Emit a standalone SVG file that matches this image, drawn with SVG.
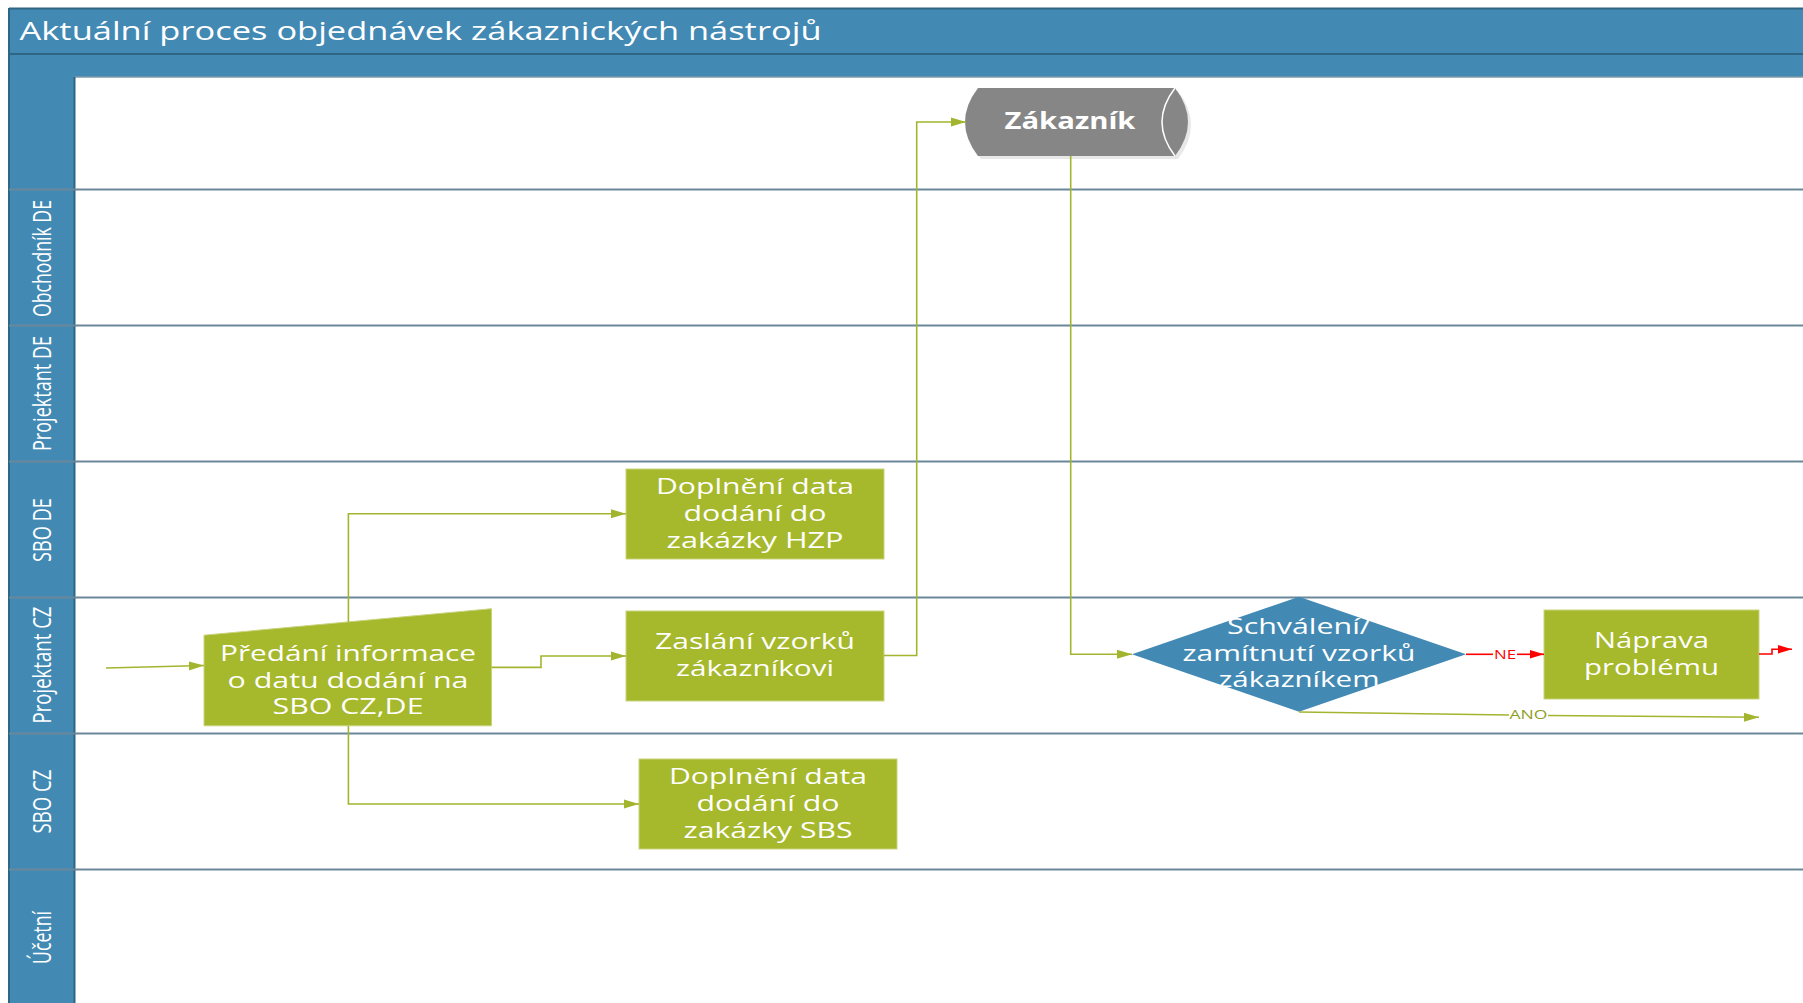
<svg xmlns="http://www.w3.org/2000/svg" width="1803" height="1003" viewBox="0 0 1803 1003">
<style>
  .hdr { fill: #4289B4; }
  .lane { stroke: #6A8799; stroke-width: 2; fill: none; }
  .colEdge { stroke: #2F6584; stroke-width: 2; fill: none; }
  .box { fill: #A6B82B; stroke: #C9D37E; stroke-width: 1; }
  .txt { font-family: "Open Sans", "Noto Sans", "DejaVu Sans", sans-serif; fill: #FFFFFF; }
  .boxTxt { font-size: 22.5px; text-anchor: middle; }
  .laneTxt { font-size: 19px; text-anchor: middle; }
  .conn { stroke: #A3B52F; stroke-width: 1.6; fill: none; }
  .connR { stroke: #FF0000; stroke-width: 1.6; fill: none; }
</style>
<defs>
  <marker id="arrG" markerUnits="userSpaceOnUse" markerWidth="15" markerHeight="10" refX="15" refY="5" orient="auto">
    <path d="M0,0.5 L15,5 L0,9.5 Z" fill="#A3B52F"/>
  </marker>
  <marker id="arrR" markerUnits="userSpaceOnUse" markerWidth="14" markerHeight="10" refX="14" refY="5" orient="auto">
    <path d="M0,0.8 L14,5 L0,9.2 Z" fill="#FF0000"/>
  </marker>
</defs>

<rect x="0" y="0" width="1803" height="1003" fill="#FFFFFF"/>

<g id="pool">
  <rect class="hdr" x="9" y="9" width="1800" height="68"/>
  <line x1="9" y1="8.5" x2="1803" y2="8.5" stroke="#2F6584" stroke-width="2"/>
  <line x1="9" y1="54" x2="1803" y2="54" stroke="#2F6584" stroke-width="2"/>
  <line x1="74.5" y1="77" x2="1803" y2="77" stroke="#7F9AAA" stroke-width="1.5"/>
  <rect class="hdr" x="9" y="77" width="65.5" height="930"/>
  <line class="colEdge" x1="9" y1="8" x2="9" y2="1003"/>
  <line class="colEdge" x1="74.5" y1="77" x2="74.5" y2="1003"/>
  <line class="lane" x1="9" y1="189.5" x2="1803" y2="189.5"/>
  <line class="lane" x1="9" y1="325.5" x2="1803" y2="325.5"/>
  <line class="lane" x1="9" y1="461.5" x2="1803" y2="461.5"/>
  <line class="lane" x1="9" y1="597.5" x2="1803" y2="597.5"/>
  <line class="lane" x1="9" y1="733.5" x2="1803" y2="733.5"/>
  <line class="lane" x1="9" y1="869.5" x2="1803" y2="869.5"/>
  <text class="txt" x="19.5" y="39.5" font-size="26" textLength="802" lengthAdjust="spacingAndGlyphs">Aktuální proces objednávek zákaznických nástrojů</text>
  <text class="txt laneTxt" transform="translate(50.5,258.5) scale(1.3,1) rotate(-90)" textLength="117" lengthAdjust="spacingAndGlyphs">Obchodník DE</text>
  <text class="txt laneTxt" transform="translate(50.5,393.5) scale(1.3,1) rotate(-90)" textLength="115" lengthAdjust="spacingAndGlyphs">Projektant DE</text>
  <text class="txt laneTxt" transform="translate(50.5,530) scale(1.3,1) rotate(-90)" textLength="64" lengthAdjust="spacingAndGlyphs">SBO DE</text>
  <text class="txt laneTxt" transform="translate(50.5,665) scale(1.3,1) rotate(-90)" textLength="117" lengthAdjust="spacingAndGlyphs">Projektant CZ</text>
  <text class="txt laneTxt" transform="translate(50.5,801.5) scale(1.3,1) rotate(-90)" textLength="64" lengthAdjust="spacingAndGlyphs">SBO CZ</text>
  <text class="txt laneTxt" transform="translate(50.5,937.5) scale(1.3,1) rotate(-90)" textLength="53" lengthAdjust="spacingAndGlyphs">Účetní</text>
</g>

<g id="zakaznik">
  <path d="M981,91 L1178,91 Q1204,125 1178,159 L981,159 Q955,125 981,91 Z" fill="#E8E8E8"/>
  <path d="M978,88 L1175,88 Q1201,122 1175,156 L978,156 Q952,122 978,88 Z" fill="#868686"/>
  <path d="M1175,88 Q1149,122 1175,156" fill="none" stroke="#FFFFFF" stroke-width="1.5"/>
  <text class="txt" x="1070" y="128.5" font-size="22.5" font-weight="bold" text-anchor="middle" textLength="131" lengthAdjust="spacingAndGlyphs">Zákazník</text>
</g>

<g id="predani">
  <polygon class="box" points="204,635.2 491.5,608.7 491.5,725.8 204,725.8"/>
  <text class="txt boxTxt" x="348" y="660.7" textLength="256" lengthAdjust="spacingAndGlyphs">Předání informace</text>
  <text class="txt boxTxt" x="348" y="687.6" textLength="241" lengthAdjust="spacingAndGlyphs">o datu dodání na</text>
  <text class="txt boxTxt" x="348" y="714.4" textLength="151" lengthAdjust="spacingAndGlyphs">SBO CZ,DE</text>
</g>

<g id="doplneni-hzp">
  <rect class="box" x="626" y="469" width="258" height="90"/>
  <text class="txt boxTxt" x="755" y="493.6" textLength="198" lengthAdjust="spacingAndGlyphs">Doplnění data</text>
  <text class="txt boxTxt" x="755" y="520.5" textLength="143" lengthAdjust="spacingAndGlyphs">dodání do</text>
  <text class="txt boxTxt" x="755" y="548" textLength="177" lengthAdjust="spacingAndGlyphs">zakázky HZP</text>
</g>

<g id="zaslani">
  <rect class="box" x="626" y="611" width="258" height="90"/>
  <text class="txt boxTxt" x="755" y="648.7" textLength="200" lengthAdjust="spacingAndGlyphs">Zaslání vzorků</text>
  <text class="txt boxTxt" x="755" y="675.5" textLength="158" lengthAdjust="spacingAndGlyphs">zákazníkovi</text>
</g>

<g id="doplneni-sbs">
  <rect class="box" x="639" y="759" width="258" height="90"/>
  <text class="txt boxTxt" x="768" y="783.9" textLength="198" lengthAdjust="spacingAndGlyphs">Doplnění data</text>
  <text class="txt boxTxt" x="768" y="811.4" textLength="143" lengthAdjust="spacingAndGlyphs">dodání do</text>
  <text class="txt boxTxt" x="768" y="838.3" textLength="169" lengthAdjust="spacingAndGlyphs">zakázky SBS</text>
</g>

<g id="schvaleni">
  <polygon points="1132,654.3 1299,596.8 1466,654.3 1299,711.8" fill="#4289B4"/>
  <text class="txt boxTxt" x="1299" y="634" textLength="144" lengthAdjust="spacingAndGlyphs">Schválení/</text>
  <text class="txt boxTxt" x="1299" y="660.7" textLength="233" lengthAdjust="spacingAndGlyphs">zamítnutí vzorků</text>
  <text class="txt boxTxt" x="1299" y="687.3" textLength="161" lengthAdjust="spacingAndGlyphs">zákazníkem</text>
</g>

<g id="naprava">
  <rect class="box" x="1544" y="610" width="215" height="89"/>
  <text class="txt boxTxt" x="1651.5" y="648.3" textLength="115" lengthAdjust="spacingAndGlyphs">Náprava</text>
  <text class="txt boxTxt" x="1651.5" y="675" textLength="135" lengthAdjust="spacingAndGlyphs">problému</text>
</g>

<g id="connectors">
  <path class="conn" d="M106,668 L204,665.5" marker-end="url(#arrG)"/>
  <path class="conn" d="M348.4,622 V513.8 H626" marker-end="url(#arrG)"/>
  <path class="conn" d="M491.5,667.4 H541 V656 H626" marker-end="url(#arrG)"/>
  <path class="conn" d="M348.4,726 V804 H639" marker-end="url(#arrG)"/>
  <path class="conn" d="M884,655.5 H916.7 V122 H966" marker-end="url(#arrG)"/>
  <path class="conn" d="M1070.7,156 V654.3 H1132" marker-end="url(#arrG)"/>
  <path class="connR" d="M1466,654.3 H1493"/>
  <path class="connR" d="M1517,654.3 H1544" marker-end="url(#arrR)"/>
  <text x="1505" y="659" font-family="Open Sans, Noto Sans, sans-serif" font-size="13" fill="#FF0000" text-anchor="middle" textLength="22" lengthAdjust="spacingAndGlyphs">NE</text>
  <path class="connR" d="M1759,654 H1772 V649.3 H1792" marker-end="url(#arrR)"/>
  <path class="conn" d="M1299,712 L1509,715"/>
  <path class="conn" d="M1548,715.5 L1759,717.3" marker-end="url(#arrG)"/>
  <text x="1528.5" y="719" font-family="Open Sans, Noto Sans, sans-serif" font-size="12" fill="#8E9E1E" text-anchor="middle" textLength="38" lengthAdjust="spacingAndGlyphs">ANO</text>
</g>
</svg>
